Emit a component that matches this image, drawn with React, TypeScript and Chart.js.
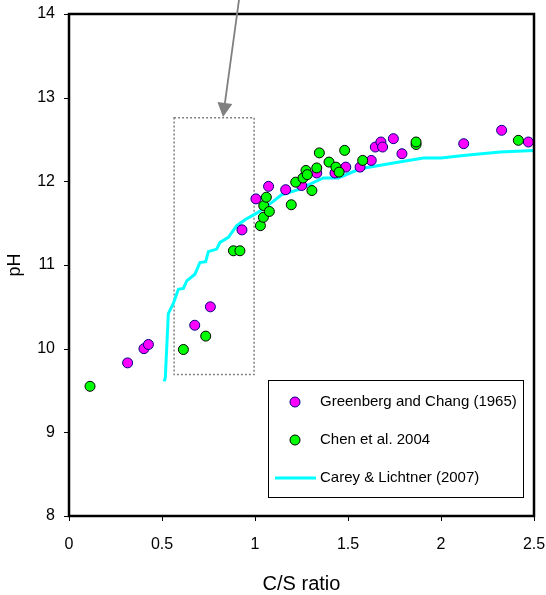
import React, { useEffect, useRef } from "react";
import { Chart, registerables } from "chart.js";

Chart.register(...registerables);

// Greenberg and Chang (1965)
const greenbergX = [0.315, 0.403, 0.427, 0.676, 0.760, 0.930, 1.005, 1.073, 1.165, 1.251, 1.332, 1.430, 1.488, 1.565, 1.625, 1.647, 1.677, 1.686, 1.744, 1.790, 2.122, 2.326, 2.470];
const greenbergY = [9.83, 10.00, 10.05, 10.28, 10.50, 11.42, 11.79, 11.94, 11.90, 11.95, 12.10, 12.10, 12.17, 12.17, 12.25, 12.41, 12.47, 12.41, 12.51, 12.33, 12.45, 12.61, 12.47];

// Chen et al. 2004
const chenX = [0.113, 0.615, 0.735, 0.884, 0.919, 1.029, 1.045, 1.047, 1.061, 1.077, 1.195, 1.219, 1.258, 1.274, 1.281, 1.306, 1.332, 1.346, 1.398, 1.435, 1.452, 1.482, 1.579, 1.866, 1.866, 2.416];
const chenY = [9.55, 9.99, 10.15, 11.17, 11.17, 11.47, 11.57, 11.71, 11.81, 11.64, 11.72, 11.99, 12.04, 12.13, 12.08, 11.89, 12.16, 12.34, 12.23, 12.17, 12.11, 12.37, 12.25, 12.44, 12.47, 12.49];

// Carey & Lichtner (2007)
const careyX = [0.512, 0.518, 0.534, 0.561, 0.588, 0.615, 0.633, 0.677, 0.704, 0.735, 0.749, 0.794, 0.812, 0.857, 0.902, 0.946, 1.009, 1.098, 1.143, 1.233, 1.367, 1.448, 1.565, 1.744, 1.905, 2.0, 2.12, 2.317, 2.5];
const careyY = [9.61, 9.66, 10.42, 10.54, 10.71, 10.72, 10.81, 10.89, 11.03, 11.04, 11.16, 11.19, 11.27, 11.33, 11.47, 11.54, 11.62, 11.76, 11.84, 11.90, 12.04, 12.04, 12.15, 12.22, 12.28, 12.28, 12.31, 12.35, 12.37];

const seriesNames = ["Greenberg and Chang (1965)", "Chen et al. 2004", "Carey & Lichtner (2007)"];
const xTicks = [0, 0.5, 1, 1.5, 2, 2.5];
const yTicks = [8, 9, 10, 11, 12, 13, 14];
const xTitle = "C/S ratio";
const yTitle = "pH";

// highlighted region and arrow (data coordinates)
const boxX = [0.565, 0.995];
const boxY = [9.69, 12.76];
const arrowFrom = [0.914, 14.17];
const arrowTo = [0.828, 12.77];

const FONT = "'Liberation Sans', Arial, sans-serif";
const MAGENTA = "#FF00FF";
const GREEN = "#00FF00";
const CYAN = "#00FFFF";

const zip = (xs: number[], ys: number[]) => xs.map((x, i) => ({ x, y: ys[i] }));

const noOverhang = (s: any) => {
  s.paddingLeft = 0;
  s.paddingRight = 0;
  s.paddingTop = 0;
  s.paddingBottom = 0;
};

const decor = {
  id: "decor",
  beforeDatasetsDraw(chart: any) {
    const { ctx, scales } = chart;
    const sx = scales.x, sy = scales.y;
    ctx.save();
    ctx.strokeStyle = "#808080";
    ctx.lineWidth = 1.5;
    ctx.setLineDash([2, 2]);
    const bx0 = sx.getPixelForValue(boxX[0]), bx1 = sx.getPixelForValue(boxX[1]);
    const by0 = sy.getPixelForValue(boxY[1]), by1 = sy.getPixelForValue(boxY[0]);
    ctx.strokeRect(bx0, by0, bx1 - bx0, by1 - by0);
    ctx.setLineDash([]);
    ctx.restore();
  },
  afterDraw(chart: any) {
    const { ctx, chartArea: a, scales } = chart;
    const sx = scales.x, sy = scales.y;
    ctx.save();
    // frame
    ctx.strokeStyle = "#000";
    ctx.lineWidth = 2.5;
    ctx.strokeRect(a.left, a.top, a.right - a.left, a.bottom - a.top);
    // tick marks
    ctx.lineWidth = 1;
    ctx.beginPath();
    yTicks.forEach((v) => {
      const y = Math.round(sy.getPixelForValue(v)) + 0.5;
      ctx.moveTo(a.left - 5, y);
      ctx.lineTo(a.left, y);
    });
    xTicks.forEach((v) => {
      const x = Math.round(sx.getPixelForValue(v)) + 0.5;
      ctx.moveTo(x, a.bottom);
      ctx.lineTo(x, a.bottom + 5);
    });
    ctx.stroke();

    // arrow
    const ax0 = sx.getPixelForValue(arrowFrom[0]), ay0 = sy.getPixelForValue(arrowFrom[1]);
    const ax1 = sx.getPixelForValue(arrowTo[0]), ay1 = sy.getPixelForValue(arrowTo[1]);
    const ang = Math.atan2(ay1 - ay0, ax1 - ax0);
    const hl = 14, hw = 7.5;
    const bxp = ax1 - hl * Math.cos(ang), byp = ay1 - hl * Math.sin(ang);
    ctx.strokeStyle = "#808080";
    ctx.fillStyle = "#808080";
    ctx.lineWidth = 1.8;
    ctx.beginPath();
    ctx.moveTo(ax0, ay0);
    ctx.lineTo(bxp, byp);
    ctx.stroke();
    ctx.beginPath();
    ctx.moveTo(ax1, ay1);
    ctx.lineTo(bxp + hw * Math.sin(ang), byp - hw * Math.cos(ang));
    ctx.lineTo(bxp - hw * Math.sin(ang), byp + hw * Math.cos(ang));
    ctx.closePath();
    ctx.fill();

    // legend
    const lx = a.left + 199, ly = a.top + 366, lw = 255, lh = 117;
    ctx.fillStyle = "#fff";
    ctx.fillRect(lx, ly, lw, lh);
    ctx.strokeStyle = "#000";
    ctx.lineWidth = 1;
    ctx.strokeRect(lx + 0.5, ly + 0.5, lw, lh);
    const rows = [ly + 22, ly + 60, ly + 98];
    ctx.font = `15px ${FONT}`;
    ctx.textBaseline = "middle";
    ctx.textAlign = "left";
    ctx.lineWidth = 1;
    ctx.beginPath();
    ctx.arc(lx + 27, rows[0], 5, 0, Math.PI * 2);
    ctx.fillStyle = MAGENTA; ctx.fill();
    ctx.strokeStyle = "#000080"; ctx.stroke();
    ctx.beginPath();
    ctx.arc(lx + 27, rows[1], 5, 0, Math.PI * 2);
    ctx.fillStyle = GREEN; ctx.fill();
    ctx.strokeStyle = "#000"; ctx.stroke();
    ctx.beginPath();
    ctx.moveTo(lx + 7, rows[2]);
    ctx.lineTo(lx + 48, rows[2]);
    ctx.strokeStyle = CYAN; ctx.lineWidth = 3; ctx.stroke();
    ctx.fillStyle = "#000";
    seriesNames.forEach((n, i) => ctx.fillText(n, lx + 52, rows[i]));

    // axis titles
    ctx.font = `20px ${FONT}`;
    ctx.textAlign = "center";
    ctx.textBaseline = "alphabetic";
    ctx.fillText(xTitle, (a.left + a.right) / 2, 590);
    ctx.save();
    ctx.translate(20, (a.top + a.bottom) / 2);
    ctx.rotate(-Math.PI / 2);
    ctx.font = `18px ${FONT}`;
    ctx.fillText(yTitle, 0, 0);
    ctx.restore();
    ctx.restore();
  },
};

export default function App() {
  const ref = useRef<HTMLCanvasElement>(null);
  useEffect(() => {
    if (!ref.current) return;
    const chart = new Chart(ref.current, {
      type: "scatter",
      data: {
        datasets: [
          {
            label: seriesNames[0],
            data: zip(greenbergX, greenbergY),
            backgroundColor: MAGENTA,
            borderColor: "#000080",
            borderWidth: 1,
            pointRadius: 5,
            order: 2,
          },
          {
            label: seriesNames[1],
            data: zip(chenX, chenY),
            backgroundColor: GREEN,
            borderColor: "#000",
            borderWidth: 1,
            pointRadius: 5,
            order: 1,
          },
          {
            label: seriesNames[2],
            data: zip(careyX, careyY),
            showLine: true,
            borderColor: CYAN,
            backgroundColor: CYAN,
            borderWidth: 3,
            pointRadius: 0,
            order: 3,
          } as any,
        ],
      },
      options: {
        animation: false,
        responsive: false,
        maintainAspectRatio: false,
        events: [],
        layout: { padding: { top: 14, right: 12, left: 0, bottom: 0 } },
        plugins: { legend: { display: false }, tooltip: { enabled: false } },
        scales: {
          x: {
            type: "linear",
            min: 0,
            max: 2.5,
            afterBuildTicks: (s: any) => { s.ticks = xTicks.map((v) => ({ value: v })); },
            afterFit: (s: any) => { s.height = 79; noOverhang(s); },
            grid: { display: false, drawTicks: false },
            border: { display: false },
            ticks: {
              padding: 19,
              color: "#000",
              font: { family: FONT, size: 16 },
              callback: (v: any) => String(v),
            },
          },
          y: {
            type: "linear",
            min: 8,
            max: 14,
            afterBuildTicks: (s: any) => { s.ticks = yTicks.map((v) => ({ value: v })); },
            afterFit: (s: any) => { s.width = 69; noOverhang(s); },
            grid: { display: false, drawTicks: false },
            border: { display: false },
            ticks: {
              padding: 14,
              color: "#000",
              font: { family: FONT, size: 16 },
              callback: (v: any) => String(v),
            },
          },
        },
      },
      plugins: [decor],
    });
    return () => chart.destroy();
  }, []);
  return (
    <div style={{ position: "fixed", left: 0, top: 0, width: 546, height: 595, background: "#fff" }}>
      <canvas ref={ref} width={546} height={595} style={{ width: 546, height: 595 }} />
    </div>
  );
}
